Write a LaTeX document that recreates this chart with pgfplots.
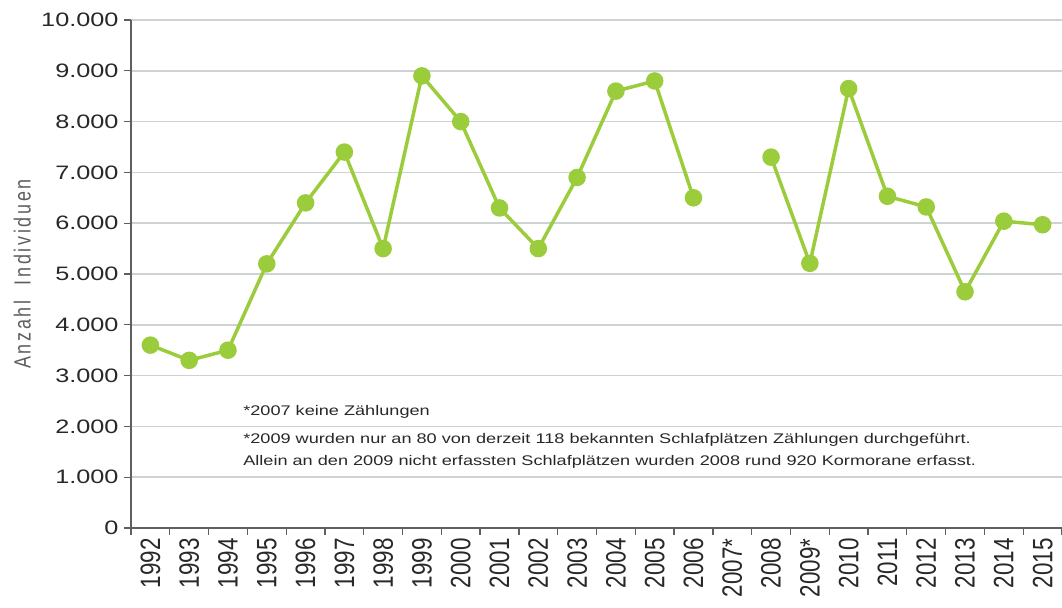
\documentclass[border=0pt]{standalone}
\usepackage{fontspec}
\usepackage{graphicx}
\setmainfont{Liberation Sans}[FakeStretch=1.3]
\newfontfamily\plainfont{Liberation Sans}
\newfontfamily\spacedfont{Liberation Sans}[LetterSpace=15]
\usepackage{pgfplots}
\pgfplotsset{compat=1.18}
\definecolor{lgreen}{RGB}{155,204,60}
\definecolor{gridgray}{RGB}{205,210,212}
\definecolor{axgray}{RGB}{95,95,95}
\definecolor{txt}{RGB}{40,40,40}
\newcommand\xl[1]{\scalebox{1}[1.25]{#1}}
\begin{document}
\begin{tikzpicture}
\begin{axis}[
  name=ax,
  scale only axis,
  width=931bp, height=508bp,
  xmin=-0.5, xmax=23.5,
  ymin=0, ymax=10000,
  scaled y ticks=false,
  axis x line*=bottom,
  axis y line*=left,
  axis line style={draw=axgray, line width=1.5bp},
  xtick={0,...,23},
  xticklabels={\xl{1992},\xl{1993},\xl{1994},\xl{1995},\xl{1996},\xl{1997},\xl{1998},\xl{1999},\xl{2000},\xl{2001},\xl{2002},\xl{2003},\xl{2004},\xl{2005},\xl{2006},\xl{2007*},\xl{2008},\xl{2009*},\xl{2010},\xl{2011},\xl{2012},\xl{2013},\xl{2014},\xl{2015}},
  major x tick style={draw=none},
  minor xtick={-0.5,0.5,...,23.5},
  minor x tick style={draw=axgray, line width=1.3bp},
  minor tick length=7bp,
  ytick={0,1000,...,10000},
  yticklabels={0,1.000,2.000,3.000,4.000,5.000,6.000,7.000,8.000,9.000,10.000},
  y tick style={draw=axgray, line width=1.3bp},
  major tick length=7bp,
  tick align=outside,
  ymajorgrids,
  grid style={draw=gridgray, line width=1.5bp},
  y tick label style={font=\fontsize{19.5}{20}\selectfont, text=txt, xshift=-2bp},
  x tick label style={rotate=90, anchor=east, font=\plainfont\fontsize{22.5}{23}\selectfont, text=txt},
  ylabel={Anzahl\ \ Individuen},
  ylabel style={font=\spacedfont\fontsize{18}{18}\selectfont, text=axgray, yscale=1.3, at={(ticklabel cs:0.5)}, anchor=south, yshift=2bp},
  unbounded coords=jump,
  clip=false,
]
\addplot[color=lgreen, line width=3.5bp, mark=*, mark size=7bp, mark options={fill=lgreen, draw=lgreen}]
coordinates {
(0,3600) (1,3300) (2,3500) (3,5200) (4,6400) (5,7400) (6,5500) (7,8900)
(8,8000) (9,6300) (10,5500) (11,6900) (12,8600) (13,8800) (14,6500)
(15,nan) (16,7300) (17,5210) (18,8650) (19,6530) (20,6320) (21,4650)
(22,6040) (23,5970)
};
\node[anchor=west, font=\fontsize{14}{14}\selectfont, text=txt, inner sep=0pt] at (axis cs:2.39,2290) {*2007 keine Zählungen};
\node[anchor=west, font=\fontsize{14}{14}\selectfont, text=txt, inner sep=0pt] at (axis cs:2.39,1740) {*2009 wurden nur an 80 von derzeit 118 bekannten Schlafplätzen Zählungen durchgeführt.};
\node[anchor=west, font=\fontsize{14}{14}\selectfont, text=txt, inner sep=0pt] at (axis cs:2.39,1300) {Allein an den 2009 nicht erfassten Schlafplätzen wurden 2008 rund 920 Kormorane erfasst.};
\end{axis}
\pgfresetboundingbox
\path[use as bounding box] ([shift={(-131bp,-80bp)}]ax.south west) rectangle ([shift={(0bp,20bp)}]ax.north east);
\end{tikzpicture}
\end{document}
